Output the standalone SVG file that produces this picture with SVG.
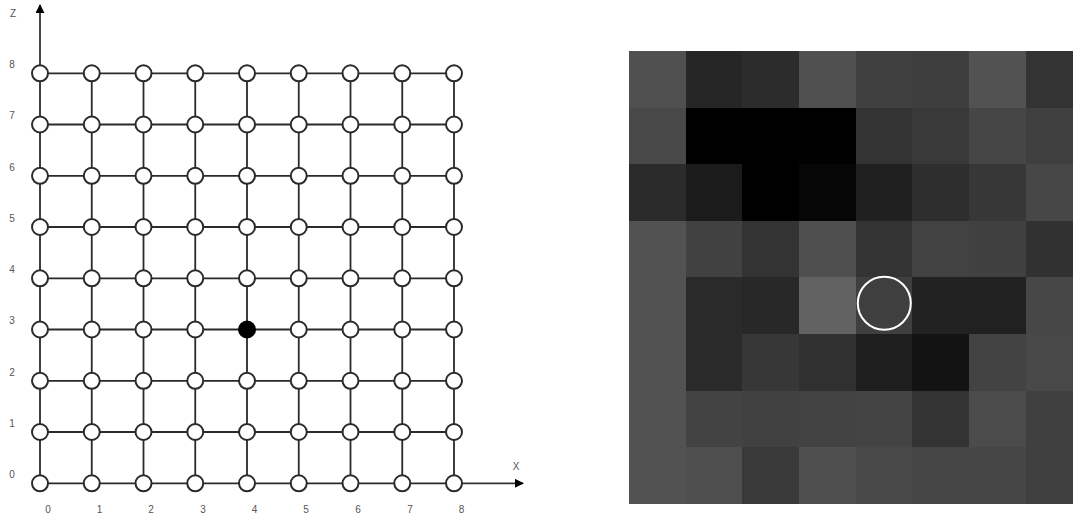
<svg xmlns="http://www.w3.org/2000/svg" width="1073" height="516" viewBox="0 0 1073 516">
<defs>
<style>
.grid{stroke:#2a2a2a;stroke-width:1.8;fill:none}
.axis{stroke:#333;stroke-width:1.8;fill:none}
.n{fill:#fff;stroke:#2a2a2a;stroke-width:2}
.f{fill:#000;stroke:#000;stroke-width:2}
.lbl{font-family:"Liberation Sans",Arial,sans-serif;font-size:10px;fill:#555;text-anchor:middle}
.px{shape-rendering:crispEdges}
</style>
<marker id="arr" viewBox="0 0 10 10" refX="9" refY="5" markerWidth="9" markerHeight="9" markerUnits="userSpaceOnUse" orient="auto">
<path d="M0,0 L10,5 L0,10 z" fill="#000"/>
</marker>
<circle id="node" r="8" class="n"/>
</defs>
<rect width="1073" height="516" fill="#fff"/>
<g id="connectors">
<path class="grid" d="M40,483.3H454M40,432H454M40,380.8H454M40,329.5H454M40,278.3H454M40,227H454M40,175.8H454M40,124.5H454M40,73.3H454"/>
<path class="grid" d="M40,73.3V483.3M91.75,73.3V483.3M143.5,73.3V483.3M195.25,73.3V483.3M247,73.3V483.3M298.75,73.3V483.3M350.5,73.3V483.3M402.25,73.3V483.3M454,73.3V483.3"/>
<line id="z-axis" class="axis" x1="40" y1="73.3" x2="40" y2="5" marker-end="url(#arr)"/>
<line id="x-axis" class="axis" x1="454" y1="483.3" x2="523" y2="483.3" marker-end="url(#arr)"/>
</g>
<g id="axis-labels" class="lbl">
<text x="13" y="17">Z</text>
<text x="516" y="470">X</text>
<text x="12" y="478">0</text><text x="12" y="427">1</text><text x="12" y="375.5">2</text><text x="12" y="324">3</text><text x="12" y="273">4</text><text x="12" y="221.5">5</text><text x="12" y="170.5">6</text><text x="12" y="119">7</text><text x="12" y="68">8</text>
<text x="48" y="513">0</text><text x="99.5" y="513">1</text><text x="151" y="513">2</text><text x="203" y="513">3</text><text x="254.5" y="513">4</text><text x="306" y="513">5</text><text x="358" y="513">6</text><text x="410" y="513">7</text><text x="461.5" y="513">8</text>
</g>
<g id="nodes">
<g id="n0-0"><use href="#node" x="40" y="483.3"/></g><g id="n1-0"><use href="#node" x="91.75" y="483.3"/></g><g id="n2-0"><use href="#node" x="143.5" y="483.3"/></g><g id="n3-0"><use href="#node" x="195.25" y="483.3"/></g><g id="n4-0"><use href="#node" x="247" y="483.3"/></g><g id="n5-0"><use href="#node" x="298.75" y="483.3"/></g><g id="n6-0"><use href="#node" x="350.5" y="483.3"/></g><g id="n7-0"><use href="#node" x="402.25" y="483.3"/></g><g id="n8-0"><use href="#node" x="454" y="483.3"/></g>
<g id="n0-1"><use href="#node" x="40" y="432"/></g><g id="n1-1"><use href="#node" x="91.75" y="432"/></g><g id="n2-1"><use href="#node" x="143.5" y="432"/></g><g id="n3-1"><use href="#node" x="195.25" y="432"/></g><g id="n4-1"><use href="#node" x="247" y="432"/></g><g id="n5-1"><use href="#node" x="298.75" y="432"/></g><g id="n6-1"><use href="#node" x="350.5" y="432"/></g><g id="n7-1"><use href="#node" x="402.25" y="432"/></g><g id="n8-1"><use href="#node" x="454" y="432"/></g>
<g id="n0-2"><use href="#node" x="40" y="380.8"/></g><g id="n1-2"><use href="#node" x="91.75" y="380.8"/></g><g id="n2-2"><use href="#node" x="143.5" y="380.8"/></g><g id="n3-2"><use href="#node" x="195.25" y="380.8"/></g><g id="n4-2"><use href="#node" x="247" y="380.8"/></g><g id="n5-2"><use href="#node" x="298.75" y="380.8"/></g><g id="n6-2"><use href="#node" x="350.5" y="380.8"/></g><g id="n7-2"><use href="#node" x="402.25" y="380.8"/></g><g id="n8-2"><use href="#node" x="454" y="380.8"/></g>
<g id="n0-3"><use href="#node" x="40" y="329.5"/></g><g id="n1-3"><use href="#node" x="91.75" y="329.5"/></g><g id="n2-3"><use href="#node" x="143.5" y="329.5"/></g><g id="n3-3"><use href="#node" x="195.25" y="329.5"/></g><g id="n4-3"><circle cx="247" cy="329.5" r="8" class="f"/></g><g id="n5-3"><use href="#node" x="298.75" y="329.5"/></g><g id="n6-3"><use href="#node" x="350.5" y="329.5"/></g><g id="n7-3"><use href="#node" x="402.25" y="329.5"/></g><g id="n8-3"><use href="#node" x="454" y="329.5"/></g>
<g id="n0-4"><use href="#node" x="40" y="278.3"/></g><g id="n1-4"><use href="#node" x="91.75" y="278.3"/></g><g id="n2-4"><use href="#node" x="143.5" y="278.3"/></g><g id="n3-4"><use href="#node" x="195.25" y="278.3"/></g><g id="n4-4"><use href="#node" x="247" y="278.3"/></g><g id="n5-4"><use href="#node" x="298.75" y="278.3"/></g><g id="n6-4"><use href="#node" x="350.5" y="278.3"/></g><g id="n7-4"><use href="#node" x="402.25" y="278.3"/></g><g id="n8-4"><use href="#node" x="454" y="278.3"/></g>
<g id="n0-5"><use href="#node" x="40" y="227"/></g><g id="n1-5"><use href="#node" x="91.75" y="227"/></g><g id="n2-5"><use href="#node" x="143.5" y="227"/></g><g id="n3-5"><use href="#node" x="195.25" y="227"/></g><g id="n4-5"><use href="#node" x="247" y="227"/></g><g id="n5-5"><use href="#node" x="298.75" y="227"/></g><g id="n6-5"><use href="#node" x="350.5" y="227"/></g><g id="n7-5"><use href="#node" x="402.25" y="227"/></g><g id="n8-5"><use href="#node" x="454" y="227"/></g>
<g id="n0-6"><use href="#node" x="40" y="175.8"/></g><g id="n1-6"><use href="#node" x="91.75" y="175.8"/></g><g id="n2-6"><use href="#node" x="143.5" y="175.8"/></g><g id="n3-6"><use href="#node" x="195.25" y="175.8"/></g><g id="n4-6"><use href="#node" x="247" y="175.8"/></g><g id="n5-6"><use href="#node" x="298.75" y="175.8"/></g><g id="n6-6"><use href="#node" x="350.5" y="175.8"/></g><g id="n7-6"><use href="#node" x="402.25" y="175.8"/></g><g id="n8-6"><use href="#node" x="454" y="175.8"/></g>
<g id="n0-7"><use href="#node" x="40" y="124.5"/></g><g id="n1-7"><use href="#node" x="91.75" y="124.5"/></g><g id="n2-7"><use href="#node" x="143.5" y="124.5"/></g><g id="n3-7"><use href="#node" x="195.25" y="124.5"/></g><g id="n4-7"><use href="#node" x="247" y="124.5"/></g><g id="n5-7"><use href="#node" x="298.75" y="124.5"/></g><g id="n6-7"><use href="#node" x="350.5" y="124.5"/></g><g id="n7-7"><use href="#node" x="402.25" y="124.5"/></g><g id="n8-7"><use href="#node" x="454" y="124.5"/></g>
<g id="n0-8"><use href="#node" x="40" y="73.3"/></g><g id="n1-8"><use href="#node" x="91.75" y="73.3"/></g><g id="n2-8"><use href="#node" x="143.5" y="73.3"/></g><g id="n3-8"><use href="#node" x="195.25" y="73.3"/></g><g id="n4-8"><use href="#node" x="247" y="73.3"/></g><g id="n5-8"><use href="#node" x="298.75" y="73.3"/></g><g id="n6-8"><use href="#node" x="350.5" y="73.3"/></g><g id="n7-8"><use href="#node" x="402.25" y="73.3"/></g><g id="n8-8"><use href="#node" x="454" y="73.3"/></g>
</g>
<g id="pixel-image" class="px">
<rect x="629" y="51" width="57" height="57" fill="#505050"/><rect x="686" y="51" width="57" height="57" fill="#262626"/><rect x="742" y="51" width="57" height="57" fill="#2c2c2c"/><rect x="799" y="51" width="57" height="57" fill="#505050"/><rect x="856" y="51" width="57" height="57" fill="#404040"/><rect x="912" y="51" width="57" height="57" fill="#3e3e3e"/><rect x="969" y="51" width="57" height="57" fill="#525252"/><rect x="1026" y="51" width="57" height="57" fill="#333333"/>
<rect x="629" y="108" width="57" height="57" fill="#484848"/><rect x="686" y="108" width="57" height="57" fill="#000000"/><rect x="742" y="108" width="57" height="57" fill="#000000"/><rect x="799" y="108" width="57" height="57" fill="#000000"/><rect x="856" y="108" width="57" height="57" fill="#333333"/><rect x="912" y="108" width="57" height="57" fill="#393939"/><rect x="969" y="108" width="57" height="57" fill="#464646"/><rect x="1026" y="108" width="57" height="57" fill="#3f3f3f"/>
<rect x="629" y="164" width="57" height="57" fill="#2b2b2b"/><rect x="686" y="164" width="57" height="57" fill="#1b1b1b"/><rect x="742" y="164" width="57" height="57" fill="#000000"/><rect x="799" y="164" width="57" height="57" fill="#060606"/><rect x="856" y="164" width="57" height="57" fill="#202020"/><rect x="912" y="164" width="57" height="57" fill="#2e2e2e"/><rect x="969" y="164" width="57" height="57" fill="#373737"/><rect x="1026" y="164" width="57" height="57" fill="#474747"/>
<rect x="629" y="221" width="57" height="57" fill="#525252"/><rect x="686" y="221" width="57" height="57" fill="#414141"/><rect x="742" y="221" width="57" height="57" fill="#333333"/><rect x="799" y="221" width="57" height="57" fill="#4f4f4f"/><rect x="856" y="221" width="57" height="57" fill="#333333"/><rect x="912" y="221" width="57" height="57" fill="#424242"/><rect x="969" y="221" width="57" height="57" fill="#404040"/><rect x="1026" y="221" width="57" height="57" fill="#313131"/>
<rect x="629" y="277" width="57" height="57" fill="#525252"/><rect x="686" y="277" width="57" height="57" fill="#2a2a2a"/><rect x="742" y="277" width="57" height="57" fill="#282828"/><rect x="799" y="277" width="57" height="57" fill="#626262"/><rect x="856" y="277" width="57" height="57" fill="#3f3f3f"/><rect x="912" y="277" width="57" height="57" fill="#222222"/><rect x="969" y="277" width="57" height="57" fill="#212121"/><rect x="1026" y="277" width="57" height="57" fill="#474747"/>
<rect x="629" y="334" width="57" height="57" fill="#525252"/><rect x="686" y="334" width="57" height="57" fill="#2a2a2a"/><rect x="742" y="334" width="57" height="57" fill="#373737"/><rect x="799" y="334" width="57" height="57" fill="#303030"/><rect x="856" y="334" width="57" height="57" fill="#1e1e1e"/><rect x="912" y="334" width="57" height="57" fill="#131313"/><rect x="969" y="334" width="57" height="57" fill="#434343"/><rect x="1026" y="334" width="57" height="57" fill="#484848"/>
<rect x="629" y="391" width="57" height="57" fill="#525252"/><rect x="686" y="391" width="57" height="57" fill="#434343"/><rect x="742" y="391" width="57" height="57" fill="#414141"/><rect x="799" y="391" width="57" height="57" fill="#424242"/><rect x="856" y="391" width="57" height="57" fill="#444444"/><rect x="912" y="391" width="57" height="57" fill="#333333"/><rect x="969" y="391" width="57" height="57" fill="#4b4b4b"/><rect x="1026" y="391" width="57" height="57" fill="#404040"/>
<rect x="629" y="447" width="57" height="57" fill="#525252"/><rect x="686" y="447" width="57" height="57" fill="#4e4e4e"/><rect x="742" y="447" width="57" height="57" fill="#393939"/><rect x="799" y="447" width="57" height="57" fill="#4f4f4f"/><rect x="856" y="447" width="57" height="57" fill="#484848"/><rect x="912" y="447" width="57" height="57" fill="#464646"/><rect x="969" y="447" width="57" height="57" fill="#464646"/><rect x="1026" y="447" width="57" height="57" fill="#3f3f3f"/>
</g>
<g id="marker-circle"><circle cx="884.3" cy="303.3" r="26.5" fill="none" stroke="#fff" stroke-width="2"/></g>
</svg>
